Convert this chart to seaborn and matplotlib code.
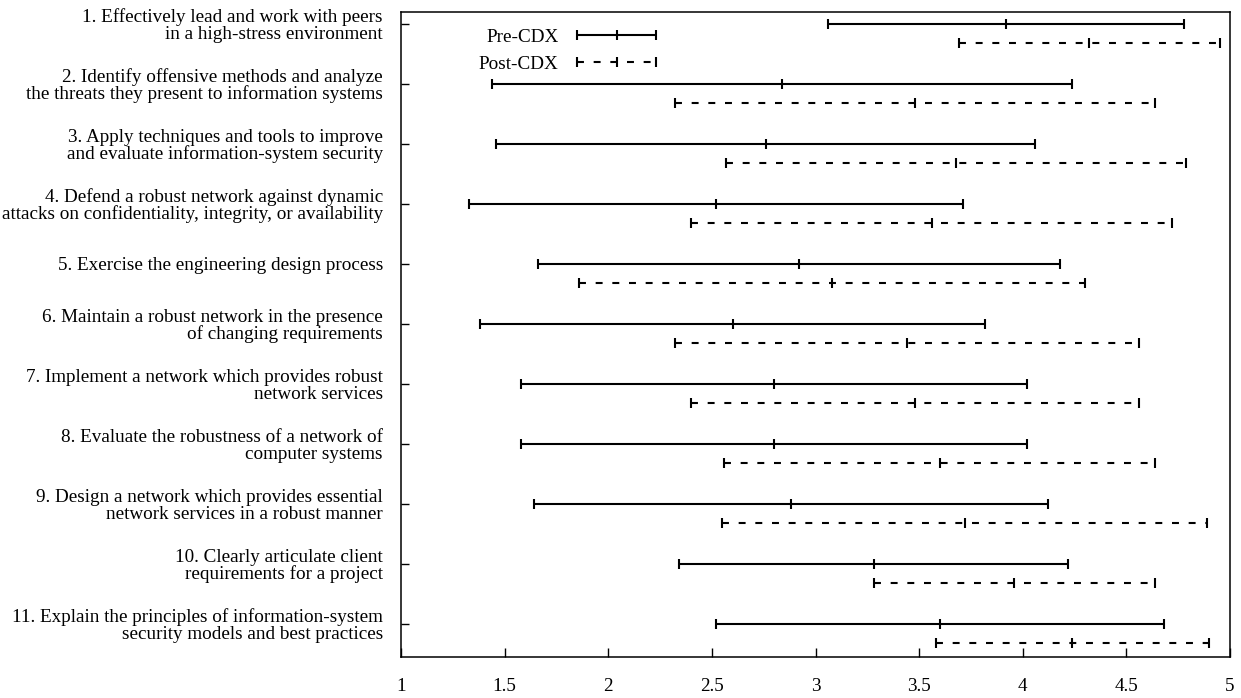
import numpy as np
import pandas as pd
import matplotlib
matplotlib.use("Agg")
import matplotlib.pyplot as plt
import seaborn as sns
from matplotlib.container import ErrorbarContainer
from matplotlib.legend_handler import HandlerErrorbar

outcomes = [
    "1. Effectively lead and work with peers\nin a high-stress environment",
    "2. Identify offensive methods and analyze\nthe threats they present to information systems",
    "3. Apply techniques and tools to improve\nand evaluate information-system security",
    "4. Defend a robust network against dynamic\nattacks on confidentiality, integrity, or availability",
    "5. Exercise the engineering design process",
    "6. Maintain a robust network in the presence\nof changing requirements",
    "7. Implement a network which provides robust\nnetwork services",
    "8. Evaluate the robustness of a network of\ncomputer systems",
    "9. Design a network which provides essential\nnetwork services in a robust manner",
    "10. Clearly articulate client\nrequirements for a project",
    "11. Explain the principles of information-system\nsecurity models and best practices",
]

pre_low = [3.06, 1.44, 1.46, 1.33, 1.66, 1.38, 1.58, 1.58, 1.64, 2.34, 2.52]
pre_mean = [3.92, 2.84, 2.76, 2.52, 2.92, 2.60, 2.80, 2.80, 2.88, 3.28, 3.60]
pre_high = [4.78, 4.24, 4.06, 3.71, 4.18, 3.82, 4.02, 4.02, 4.12, 4.22, 4.68]

post_low = [3.69, 2.32, 2.57, 2.40, 1.86, 2.32, 2.40, 2.56, 2.55, 3.28, 3.58]
post_mean = [4.32, 3.48, 3.68, 3.56, 3.08, 3.44, 3.48, 3.60, 3.72, 3.96, 4.24]
post_high = [4.95, 4.64, 4.79, 4.72, 4.30, 4.56, 4.56, 4.64, 4.89, 4.64, 4.90]

x_ticks = [1, 1.5, 2, 2.5, 3, 3.5, 4, 4.5, 5]
x_tick_labels = ["1", "1.5", "2", "2.5", "3", "3.5", "4", "4.5", "5"]
series_labels = ["Pre-CDX", "Post-CDX"]

sns.set_theme(style="white")
plt.rcParams["font.family"] = ["Liberation Serif", "DejaVu Serif"]
plt.rcParams["lines.scale_dashes"] = False
plt.rcParams["text.color"] = "black"
plt.rcParams["xtick.color"] = "black"
plt.rcParams["ytick.color"] = "black"
plt.rcParams["xtick.labelcolor"] = "black"
plt.rcParams["ytick.labelcolor"] = "black"

FS = 13.8

df = pd.DataFrame({
    "idx": np.arange(len(outcomes)),
    "pre_low": pre_low, "pre_mean": pre_mean, "pre_high": pre_high,
    "post_low": post_low, "post_mean": post_mean, "post_high": post_high,
})

fig = plt.figure(figsize=(12.41, 6.98), dpi=100)
ax = fig.add_axes([401 / 1241, 1 - 656.7 / 698, 829 / 1241, 644.7 / 698])

offset = 0.31
common = dict(color="black", capsize=3.5, markersize=7, markeredgewidth=1.5,
              elinewidth=1.5, capthick=1.5)

eb_pre = ax.errorbar(df["pre_mean"], df["idx"],
                     xerr=[df["pre_mean"] - df["pre_low"], df["pre_high"] - df["pre_mean"]],
                     fmt="|", **common)
eb_post = ax.errorbar(df["post_mean"], df["idx"] + offset,
                      xerr=[df["post_mean"] - df["post_low"], df["post_high"] - df["post_mean"]],
                      fmt="|", **common)
eb_post[2][0].set_linestyle((0, (5, 7)))

ax.set_xlim(1, 5)
ax.set_ylim(len(outcomes) - 1 + 0.545, -0.2)
ax.set_xticks(x_ticks)
ax.set_xticklabels(x_tick_labels)
ax.set_yticks(np.arange(len(outcomes)))
ax.set_yticklabels(outcomes, linespacing=0.97)
ax.set_xlabel("")
ax.set_ylabel("")

ax.tick_params(axis="x", direction="in", length=6.5, width=1, pad=15,
               labelsize=FS, colors="black", bottom=True, top=False)
ax.tick_params(axis="y", direction="in", length=6, width=1, pad=13,
               labelsize=FS, colors="black", left=True, right=False)
for s in ax.spines.values():
    s.set_visible(True)
    s.set_color("black")
    s.set_linewidth(1.1)

leg = ax.legend([eb_pre, eb_post], series_labels, loc="upper right",
                bbox_to_anchor=((656 - 401) / 829, 0.975), frameon=False,
                markerfirst=False, handlelength=4.1, handletextpad=1.0,
                labelspacing=0.5, borderpad=0, borderaxespad=0, fontsize=FS,
                handler_map={ErrorbarContainer: HandlerErrorbar(xerr_size=2.05)})

fig.savefig("out.png", dpi=100)
